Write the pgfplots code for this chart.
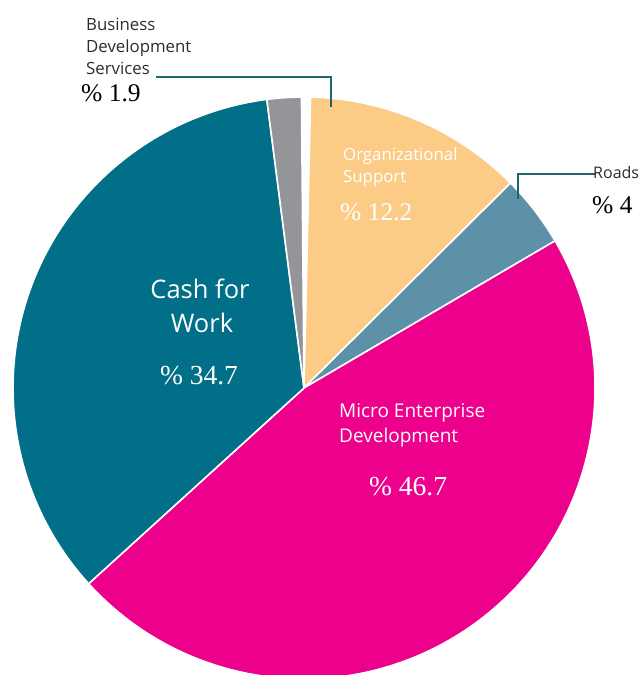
\documentclass[border=0pt]{standalone}
\usepackage{pgfplots}
\pgfplotsset{compat=1.18}
\usepackage{pgfplotstable}
\usepackage{fontspec}
\setmainfont{Liberation Serif}
\newfontfamily\labfont{Open Sans}
\newfontfamily\numfont{Liberation Serif}
\definecolor{cOrg}{RGB}{252,204,134}
\definecolor{cRoads}{RGB}{93,145,168}
\definecolor{cMicro}{RGB}{236,0,140}
\definecolor{cCash}{RGB}{0,111,135}
\definecolor{cBDS}{RGB}{147,149,152}
\definecolor{cLead}{RGB}{30,102,112}
\definecolor{cTxt}{RGB}{45,45,45}
% shares in percent, clockwise from the top
\pgfplotstableread{
name pct
Org 12.2
Roads 4
Micro 46.7
Cash 34.7
BDS 1.9
}\piedata
\pgfplotstablegetelem{0}{pct}\of\piedata\let\pA\pgfplotsretval
\pgfplotstablegetelem{1}{pct}\of\piedata\let\pB\pgfplotsretval
\pgfplotstablegetelem{2}{pct}\of\piedata\let\pC\pgfplotsretval
\pgfplotstablegetelem{3}{pct}\of\piedata\let\pD\pgfplotsretval
\pgfplotstablegetelem{4}{pct}\of\piedata\let\pE\pgfplotsretval
\pgfmathsetmacro\aA{88.7}
\pgfmathsetmacro\aB{\aA-3.6*\pA}
\pgfmathsetmacro\aC{\aB-3.6*\pB}
\pgfmathsetmacro\aD{\aC-3.6*\pC}
\pgfmathsetmacro\aE{\aD-3.6*\pD}
\pgfmathsetmacro\aF{\aE-3.6*\pE}
\def\cx{304}\def\cy{287}\def\R{291pt}
\newcommand\slice[3]{%
  \fill[#3, draw=white, line width=1.6pt, line join=round]
    (axis cs:\cx,\cy) -- ++(#1:\R) arc[start angle=#1, end angle=#2, radius=\R] -- cycle;}
\begin{document}
\begin{tikzpicture}
\clip (0,0) rectangle (639pt,675pt);
\begin{axis}[x=1pt, y=1pt, xmin=0, xmax=639, ymin=0, ymax=675, hide axis, clip=true]
\slice{\aA}{\aB}{cOrg}
\slice{\aB}{\aC}{cRoads}
\slice{\aC}{\aD}{cMicro}
\slice{\aD}{\aE}{cCash}
\slice{\aE}{\aF}{cBDS}
% leaders
\draw[cLead, line width=2.2pt] (axis cs:156,598) -- (axis cs:331,598) -- (axis cs:331,568);
\draw[cLead, line width=2.2pt] (axis cs:518,476) -- (axis cs:518,501) -- (axis cs:595,501);
\tikzset{lab/.style={inner sep=0pt, anchor=base west}}
% BDS
\node[lab, text=cTxt, font=\labfont\fontsize{16.8}{19}\selectfont] at (axis cs:86,644) {Business};
\node[lab, text=cTxt, font=\labfont\fontsize{16.8}{19}\selectfont] at (axis cs:86,622) {Development};
\node[lab, text=cTxt, font=\labfont\fontsize{16.8}{19}\selectfont] at (axis cs:86,600) {Services};
\node[lab, text=black, font=\numfont\fontsize{25.5}{28}\selectfont] at (axis cs:81,573) {\% 1.9};
% Org
\node[lab, text=white, font=\labfont\fontsize{16.8}{19}\selectfont] at (axis cs:343,514) {Organizational};
\node[lab, text=white, font=\labfont\fontsize{16.8}{19}\selectfont] at (axis cs:343,492) {Support};
\node[lab, text=white, font=\numfont\fontsize{25.5}{28}\selectfont] at (axis cs:340,454) {\% 12.2};
% Roads
\node[lab, text=cTxt, font=\labfont\fontsize{16}{19}\selectfont] at (axis cs:593,496) {Roads};
\node[lab, text=black, font=\numfont\fontsize{25.5}{28}\selectfont] at (axis cs:592,461) {\% 4};
% Cash
\node[inner sep=0pt, anchor=base, text=white, font=\labfont\fontsize{25.5}{30}\selectfont] at (axis cs:200,376) {Cash for};
\node[inner sep=0pt, anchor=base, text=white, font=\labfont\fontsize{25.5}{30}\selectfont] at (axis cs:202,342) {Work};
\node[inner sep=0pt, anchor=base, text=white, font=\numfont\fontsize{27.5}{30}\selectfont] at (axis cs:199,290) {\% 34.7};
% Micro
\node[lab, text=white, font=\labfont\fontsize{19}{21}\selectfont] at (axis cs:339,257) {Micro Enterprise};
\node[lab, text=white, font=\labfont\fontsize{19}{21}\selectfont] at (axis cs:339,232) {Development};
\node[lab, text=white, font=\numfont\fontsize{27.5}{30}\selectfont] at (axis cs:369,179) {\% 46.7};
\end{axis}
\end{tikzpicture}
\end{document}
